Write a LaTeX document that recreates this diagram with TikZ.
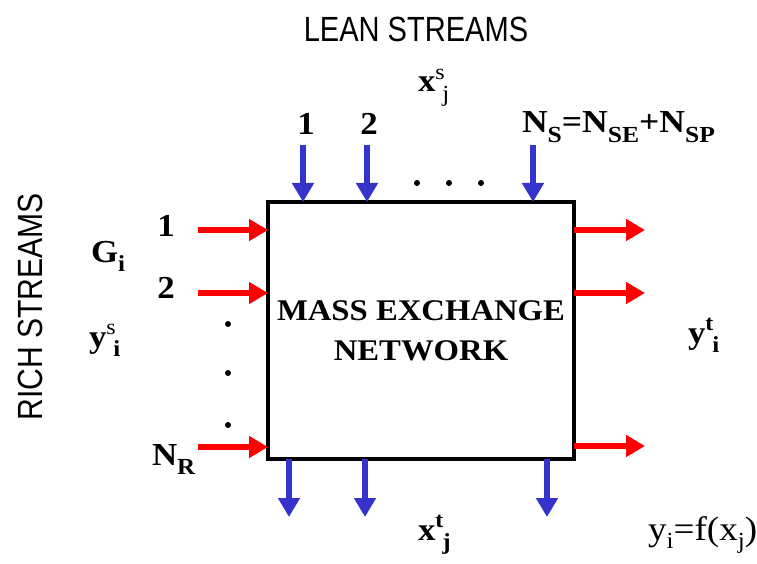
\documentclass[tikz,border=0pt]{standalone}
\usepackage{fontspec}
\setmainfont[FakeStretch=1.09]{Liberation Serif}
\newfontfamily\headfont{Liberation Sans}
\usetikzlibrary{arrows.meta}

\definecolor{leanblue}{RGB}{52,52,204}
\definecolor{richred}{RGB}{255,0,0}

% base with a superscript and a slightly offset subscript
\newcommand\supsub[3]{#1\rlap{\raisebox{0.40em}{\fontsize{22}{22}\selectfont #2}}\hspace{0.22em}\raisebox{-0.30em}{\fontsize{23}{23}\selectfont #3}}
% base with a subscript only
\newcommand\subonly[1]{\raisebox{-0.30em}{\fontsize{23}{23}\selectfont #1}}

\begin{document}
\begin{tikzpicture}[x=1pt,y=-1pt,
  lbl/.style={font=\fontsize{32}{36}\selectfont\bfseries, inner sep=0pt, outer sep=0pt},
  head/.style={font=\fontsize{35}{40}\selectfont\headfont, inner sep=0pt},
  richarrow/.style={draw=richred, line width=6pt, -{Triangle[length=19pt,width=21pt]}},
  leanarrow/.style={draw=leanblue, line width=6pt, -{Triangle[length=19pt,width=21pt]}},
  dotmark/.style={fill=black, draw=none}
]
\useasboundingbox (0,0) rectangle (757,564);

% the exchanger block
\node[draw=black, line width=4pt, minimum width=306pt, minimum height=257pt,
      inner sep=0pt, outer sep=0pt, align=center,
      font=\fontsize{30}{40}\selectfont\bfseries] (box) at (421,330.5)
      {MASS EXCHANGE\\NETWORK};

% headings
\node[head] (lean) at (416,29) {\scalebox{0.83}[1]{LEAN STREAMS}};
\node[head, rotate=90] (rich) at (30,307) {\scalebox{0.86}[1]{RICH STREAMS}};

% lean streams entering at the top
\coordinate (ls1) at (303,145);
\coordinate (ls2) at (367,145);
\coordinate (ls3) at (533,145);
\draw[leanarrow] (ls1) -- (ls1 |- box.north);
\draw[leanarrow] (ls2) -- (ls2 |- box.north);
\draw[leanarrow] (ls3) -- (ls3 |- box.north);
\fill[dotmark] (417,183) circle (3pt) (449,183) circle (3pt) (481,183) circle (3pt);

\node[lbl] (n1top) at (306,124) {1};
\node[lbl] (n2top) at (369,124) {2};
\node[lbl, anchor=base west] (xs) at (418,92) {\supsub{x}{\mdseries s}{\mdseries j}};
\node[lbl, anchor=base west] (ns) at (522,133)
  {\scalebox{1.02}[1]{N\subonly{S}=N\subonly{SE}+N\subonly{SP}}};

% lean streams leaving at the bottom
\coordinate (lt1) at (289,517);
\coordinate (lt2) at (365,517);
\coordinate (lt3) at (547,517);
\draw[leanarrow] (lt1 |- box.south) -- (lt1);
\draw[leanarrow] (lt2 |- box.south) -- (lt2);
\draw[leanarrow] (lt3 |- box.south) -- (lt3);
\node[lbl, anchor=base west] (xt) at (418,540) {\supsub{x}{t}{j}};

% rich streams entering on the left
\coordinate (rs1) at (198,230);
\coordinate (rs2) at (198,293);
\coordinate (rs3) at (198,447);
\draw[richarrow] (rs1) -- (rs1 -| box.west);
\draw[richarrow] (rs2) -- (rs2 -| box.west);
\draw[richarrow] (rs3) -- (rs3 -| box.west);
\fill[dotmark] (228,324) circle (3pt) (228,373) circle (3pt) (228,425) circle (3pt);

\node[lbl] (n1left) at (166,226) {1};
\node[lbl] (n2left) at (166,288) {2};
\node[lbl, anchor=base west] (nr) at (152,465) {N\subonly{R}};
\node[lbl, anchor=base west] (gi) at (91,262) {G\subonly{i}};
\node[lbl, anchor=base west] (ys) at (89,347) {\supsub{y}{\mdseries s}{i}};

% rich streams leaving on the right
\coordinate (rt1) at (645,230);
\coordinate (rt2) at (645,293);
\coordinate (rt3) at (645,446);
\draw[richarrow] (rt1 -| box.east) -- (rt1);
\draw[richarrow] (rt2 -| box.east) -- (rt2);
\draw[richarrow] (rt3 -| box.east) -- (rt3);
\node[lbl, anchor=base west] (yt) at (688,343) {\supsub{y}{t}{i}};

% equilibrium relation
\node[anchor=base west, inner sep=0pt, font=\fontsize{34}{40}\selectfont] (eq) at (648,540)
  {y\raisebox{-0.25em}{\fontsize{23}{23}\selectfont i}=f(x\raisebox{-0.25em}{\fontsize{23}{23}\selectfont j})};
\end{tikzpicture}
\end{document}
